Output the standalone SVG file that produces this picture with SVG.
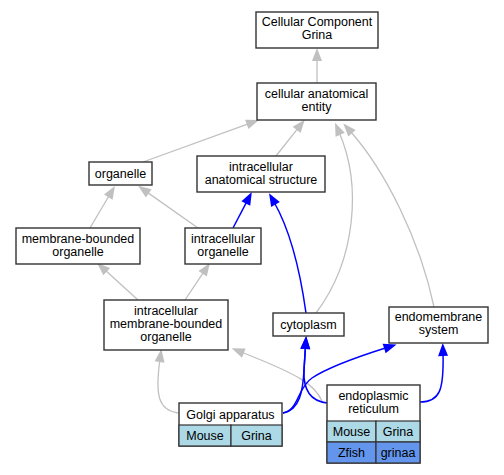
<svg xmlns="http://www.w3.org/2000/svg" width="504" height="475" viewBox="0 0 504 475">
<style>
text{font-family:"Liberation Sans",Arial,sans-serif;font-size:12.5px;fill:#000;text-anchor:middle}
.n{fill:#fff;stroke:#333;stroke-width:1.4}
.c{stroke:#333;stroke-width:1.2}
.m{fill:#add8e6}
.z{fill:#6495ed}
.g{fill:none;stroke:#c0c0c0;stroke-width:1.3}
.b{fill:none;stroke:#0000ff;stroke-width:1.5}
</style>
<defs>
<marker id="ag" markerUnits="userSpaceOnUse" markerWidth="14" markerHeight="11" refX="3" refY="5" orient="auto" overflow="visible"><path d="M0,0 L13,5 L0,10 z" fill="#c0c0c0"/></marker>
<marker id="ab" markerUnits="userSpaceOnUse" markerWidth="14" markerHeight="11" refX="3" refY="5" orient="auto" overflow="visible"><path d="M0,0 L13,5 L0,10 z" fill="#0000ff"/></marker>
</defs>
<rect width="504" height="475" fill="#fff"/>
<g id="edges">
<path class="g" marker-end="url(#ag)" d="M317,83 L317,58"/>
<path class="g" marker-end="url(#ag)" d="M143,162 L249.6,123.4"/>
<path class="g" marker-end="url(#ag)" d="M276,156 L298.5,127.6"/>
<path class="g" marker-end="url(#ag)" d="M316,313 C356,260 362,185 339,132"/>
<path class="g" marker-end="url(#ag)" d="M434,307 C420,240 385,170 350,131"/>
<path class="g" marker-end="url(#ag)" d="M90,228 L109.8,194.5"/>
<path class="g" marker-end="url(#ag)" d="M198,228 L146.3,191.6"/>
<path class="b" marker-end="url(#ab)" d="M233,228 L247.2,200.8"/>
<path class="b" marker-end="url(#ab)" d="M306,313 C300,270 290,230 274,202"/>
<path class="g" marker-end="url(#ag)" d="M138,300 L104.5,269.6"/>
<path class="g" marker-end="url(#ag)" d="M185,300 L204.3,271.2"/>
<path class="g" marker-end="url(#ag)" d="M178,413 C158,410 155,395 160,359"/>
<path class="g" marker-end="url(#ag)" d="M322,401 C315,385 300,375 241,352"/>
<path class="b" marker-end="url(#ab)" d="M283,413 C300,410 303,390 304,370 L305.5,346"/>
<path class="b" marker-end="url(#ab)" d="M327,403 C310,401 303,390 304,370 L305.5,346"/>
<path class="b" marker-end="url(#ab)" d="M283,413 C299,410 297,388 312,378 S360,356 387,347.5"/>
<path class="b" marker-end="url(#ab)" d="M420,402 C440,402 444,390 443,353"/>
</g>
<g id="ccg"><rect class="n" x="256" y="12" width="122" height="36"/><text x="317" y="26">Cellular Component</text><text x="317" y="39">Grina</text></g>
<g id="cae"><rect class="n" x="257" y="83" width="119" height="37"/><text x="316.5" y="98">cellular anatomical</text><text x="316.5" y="111">entity</text></g>
<g id="ias"><rect class="n" x="197" y="156" width="128" height="36"/><text x="261" y="170.5">intracellular</text><text x="261" y="183.5">anatomical structure</text></g>
<g id="organelle"><rect class="n" x="89" y="162" width="63" height="23"/><text x="120.5" y="177.5">organelle</text></g>
<g id="mbo"><rect class="n" x="16" y="228" width="124" height="36"/><text x="78" y="242.5">membrane-bounded</text><text x="78" y="255.5">organelle</text></g>
<g id="io"><rect class="n" x="185" y="228" width="76" height="36"/><text x="223" y="242.5">intracellular</text><text x="223" y="255.5">organelle</text></g>
<g id="imbo"><rect class="n" x="104" y="300" width="124" height="50"/><text x="166" y="315">intracellular</text><text x="166" y="328">membrane-bounded</text><text x="166" y="341">organelle</text></g>
<g id="cytoplasm"><rect class="n" x="273" y="313" width="71" height="23"/><text x="308.5" y="328.5">cytoplasm</text></g>
<g id="endomembrane"><rect class="n" x="389" y="307" width="99" height="36"/><text x="438.5" y="321">endomembrane</text><text x="438.5" y="334">system</text></g>
<g id="golgi">
<rect class="n" x="179" y="403" width="103" height="43"/>
<rect class="c m" x="179" y="425" width="52" height="21"/>
<rect class="c m" x="231" y="425" width="51" height="21"/>
<text x="230.5" y="418.5">Golgi apparatus</text>
<text x="205" y="439.5">Mouse</text><text x="256.5" y="439.5">Grina</text>
</g>
<g id="er">
<rect class="n" x="327" y="385" width="93" height="78"/>
<rect class="c m" x="327" y="421" width="49" height="21"/>
<rect class="c m" x="376" y="421" width="44" height="21"/>
<rect class="c z" x="327" y="442" width="49" height="21"/>
<rect class="c z" x="376" y="442" width="44" height="21"/>
<text x="373.5" y="400">endoplasmic</text><text x="373.5" y="413">reticulum</text>
<text x="351.5" y="436">Mouse</text><text x="398" y="436">Grina</text>
<text x="351.5" y="457">Zfish</text><text x="398" y="457">grinaa</text>
</g>
</svg>
